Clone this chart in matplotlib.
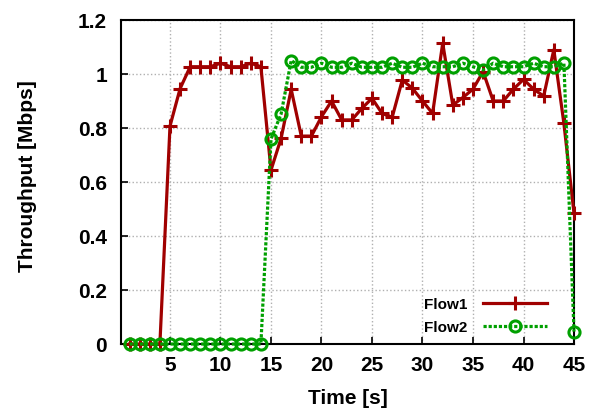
import matplotlib.pyplot as plt
import numpy as np

plt.rcParams['font.family'] = ['Liberation Sans', 'DejaVu Sans']

time_s = list(range(1, 46))
flow1 = [0, 0, 0, 0, 0.807, 0.946, 1.027, 1.027, 1.027, 1.04,
         1.027, 1.027, 1.04, 1.027, 0.644, 0.762, 0.943, 0.77, 0.77, 0.842,
         0.9, 0.83, 0.83, 0.873, 0.91, 0.854, 0.84, 0.978, 0.947, 0.9,
         0.854, 1.114, 0.885, 0.913, 0.944, 1.009, 0.9, 0.9, 0.944, 0.98,
         0.944, 0.918, 1.09, 0.817, 0.484]
flow2 = [0, 0, 0, 0, 0, 0, 0, 0, 0, 0,
         0, 0, 0, 0, 0.759, 0.852, 1.05, 1.025, 1.025, 1.04,
         1.025, 1.025, 1.04, 1.025, 1.025, 1.025, 1.04, 1.025, 1.025, 1.04,
         1.027, 1.027, 1.027, 1.04, 1.027, 1.015, 1.04, 1.027, 1.027, 1.027,
         1.04, 1.027, 1.027, 1.04, 0.046]

xticks = [5, 10, 15, 20, 25, 30, 35, 40, 45]
yticks = [0, 0.2, 0.4, 0.6, 0.8, 1.0, 1.2]
ytick_labels = ['0', '0.2', '0.4', '0.6', '0.8', '1', '1.2']

fig = plt.figure(figsize=(5.92, 4.17), dpi=100)
ax = fig.add_axes([0.2044, 0.175, 0.7652, 0.777])

ax.plot(time_s, flow1, color='#a00000', lw=2.3, marker='+', ms=10, mew=2.2,
        label='Flow1', clip_on=False, zorder=3)
ax.plot(time_s, flow2, color='#00a000', lw=2.3, ls=(0, (1, 0.6)), marker='o',
        ms=8, mew=2.2, mfc='none', label='Flow2', clip_on=False, zorder=4)

ax.set_xlim(0.15, 45)
ax.set_ylim(0, 1.2)
ax.set_xticks(xticks)
ax.set_yticks(yticks)
ax.set_yticklabels(ytick_labels)
ax.tick_params(direction='in', length=5, width=1.2, labelsize=15,
               top=False, right=False)
ax.tick_params(axis='x', pad=8.5)
ax.tick_params(axis='y', pad=10)
for lbl in ax.get_xticklabels() + ax.get_yticklabels():
    lbl.set_fontweight('bold')
ax.grid(True, color='#b0b0b0', ls=':', lw=1)
for s in ax.spines.values():
    s.set_linewidth(1.5)

ax.set_xlabel('Time [s]', fontsize=15, fontweight='bold', labelpad=10)
ax.set_ylabel('Throughput [Mbps]', fontsize=15, fontweight='bold')
ax.yaxis.set_label_coords(-0.185, 0.518)

leg = ax.legend(loc='lower right', bbox_to_anchor=(0.954, 0.01), frameon=False,
                markerfirst=False, handlelength=4.2, handletextpad=1.0,
                borderaxespad=0, labelspacing=0.6,
                prop={'weight': 'bold', 'size': 11})

fig.savefig('out.png', dpi=100, facecolor='white')
